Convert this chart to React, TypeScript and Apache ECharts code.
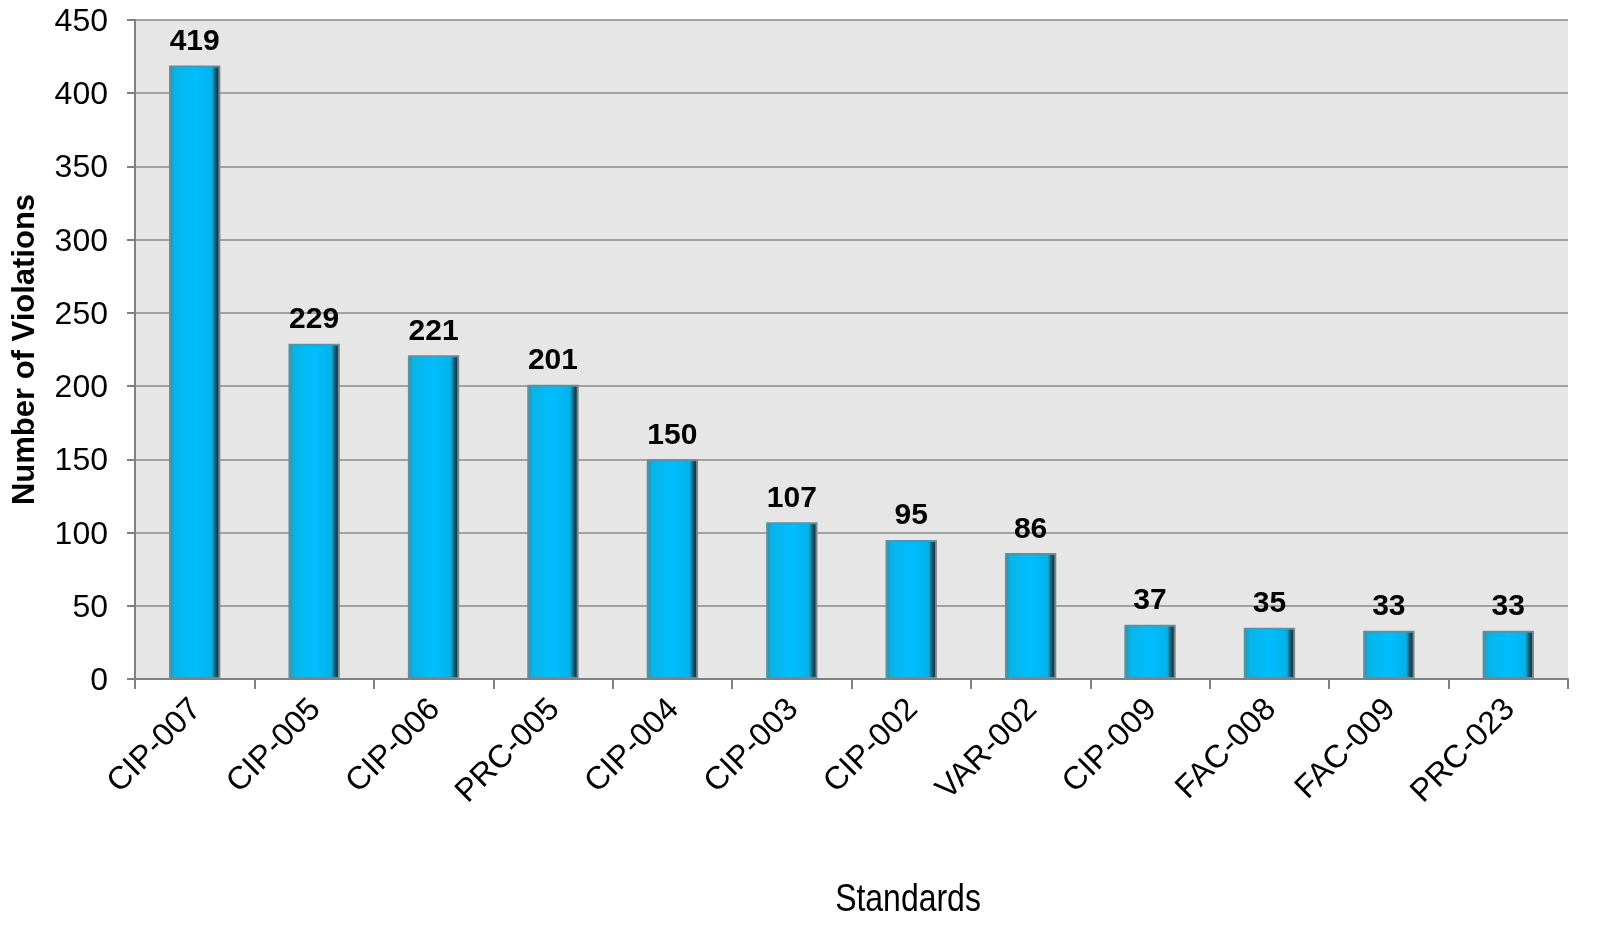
import React, { useEffect, useRef } from "react";
import * as echarts from "echarts";

const categories = ["CIP-007", "CIP-005", "CIP-006", "PRC-005", "CIP-004", "CIP-003", "CIP-002", "VAR-002", "CIP-009", "FAC-008", "FAC-009", "PRC-023"];
const violations = [419, 229, 221, 201, 150, 107, 95, 86, 37, 35, 33, 33];
const xAxisTitle = "Standards";
const yAxisTitle = "Number of Violations";

export default function App() {
  const ref = useRef<HTMLDivElement>(null);
  useEffect(() => {
    const chart = echarts.init(ref.current!, undefined, { renderer: "svg" });
    const barColor = new echarts.graphic.LinearGradient(0, 0, 1, 0, [
      { offset: 0, color: "#4a8696" },
      { offset: 0.09, color: "#08b4e6" },
      { offset: 0.5, color: "#00beff" },
      { offset: 0.85, color: "#00b2ea" },
      { offset: 0.92, color: "#0a5f7c" },
      { offset: 1, color: "#10262e" },
    ]);
    chart.setOption({
      animation: false,
      textStyle: { fontFamily: "Liberation Sans, Arial, sans-serif" },
      grid: { left: 130, right: 38, top: 20, bottom: 258, show: true, backgroundColor: "#e6e6e6", borderWidth: 0 },
      graphic: [
        {
          type: "text",
          x: 908,
          y: 898,
          scaleX: 0.82,
          style: {
            text: xAxisTitle,
            fontSize: 39,
            fill: "#000",
            fontFamily: "Liberation Sans, Arial, sans-serif",
            align: "center",
            verticalAlign: "middle",
          },
        },
      ],
      xAxis: {
        type: "category",
        data: categories,
        axisLine: { lineStyle: { color: "#808080", width: 2 } },
        axisTick: { show: true, length: 10, lineStyle: { color: "#808080", width: 2 } },
        axisLabel: { rotate: 45, fontSize: 32, color: "#000", margin: 24 },
      },
      yAxis: {
        type: "value",
        min: 0,
        max: 450,
        interval: 50,
        name: yAxisTitle,
        nameLocation: "middle",
        nameGap: 96,
        nameTextStyle: { fontSize: 31, fontWeight: "bold", color: "#000" },
        axisLine: { show: true, lineStyle: { color: "#808080", width: 2 } },
        axisTick: { show: true, length: 8, lineStyle: { color: "#808080", width: 2 } },
        axisLabel: { fontSize: 32, color: "#000", margin: 27 },
        splitLine: { lineStyle: { color: "#8a8a8a", width: 1.5 } },
      },
      series: [
        {
          type: "bar",
          data: violations,
          barWidth: "43%",
          itemStyle: { color: barColor, borderColor: "#6f8a92", borderWidth: 2 },
          label: { show: true, position: "top", distance: 11, fontSize: 30, fontWeight: "bold", color: "#000" },
        },
      ],
    });
    return () => chart.dispose();
  }, []);
  return <div ref={ref} style={{ position: "fixed", left: 0, top: 0, width: 1606, height: 937 }} />;
}
